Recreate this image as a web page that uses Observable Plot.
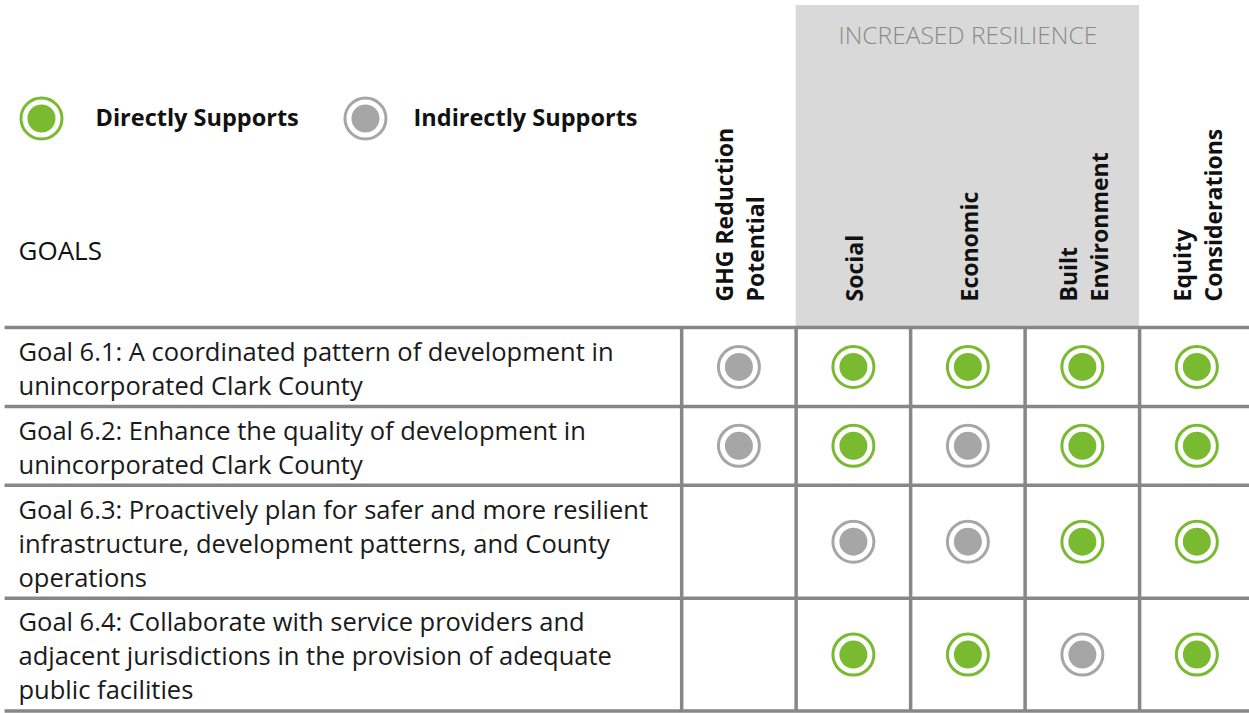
<!DOCTYPE html>
<html>
<head>
<meta charset="utf-8">
<script src="https://cdn.jsdelivr.net/npm/d3@7"></script>
<script src="https://cdn.jsdelivr.net/npm/@observablehq/plot@0.6"></script>
<style>
  html, body { margin: 0; padding: 0; background: #fff; }
  #chart svg { display: block; }
</style>
</head>
<body>
<div id="chart"></div>
<script>
// ---- data ----
const columns = ["GHG Reduction\nPotential", "Social", "Economic", "Built\nEnvironment", "Equity\nConsiderations"];
const groupLabel = "INCREASED RESILIENCE";
const groupColumns = ["Social", "Economic", "Built\nEnvironment"];
const goalsHeader = "GOALS";
const goals = [
  "Goal 6.1: A coordinated pattern of development in\nunincorporated Clark County",
  "Goal 6.2: Enhance the quality of development in\nunincorporated Clark County",
  "Goal 6.3: Proactively plan for safer and more resilient\ninfrastructure, development patterns, and County\noperations",
  "Goal 6.4: Collaborate with service providers and\nadjacent jurisdictions in the provision of adequate\npublic facilities"
];
// D = directly supports, I = indirectly supports, "" = none
const ratings = [
  ["I", "D", "D", "D", "D"],
  ["I", "D", "I", "D", "D"],
  ["",  "I", "I", "D", "D"],
  ["",  "D", "D", "I", "D"]
];
const legendKeys = ["D", "I"];
const legendLabels = ["Directly Supports", "Indirectly Supports"];

// ---- styling / layout ----
const colors = {D: "#7aba31", I: "#a6a6a6"};
const W = 1249, H = 713;
const goalSpan = 5.95;              // goal column width in column units
const nUnitsX = 10.91;              // visible width in column units (last column is cut off)
const lineH = 34;                   // px per text line (y unit)
const headerBottom = 327 / lineH;
const rowPad = 0.32;
const font = "'Open Sans', 'Noto Sans', sans-serif";
const legendSymbolX = [0.358, 3.188];
const legendTextX = [0.83, 3.608];

const rows = [];
let rowTop = headerBottom;
goals.forEach((g, i) => {
  const n = g.split("\n").length;
  const h = n + rowPad;
  rows.push({goal: g, i, top: rowTop, bottom: rowTop + h, mid: rowTop + h / 2});
  rowTop += h;
});
const boundaries = [headerBottom, ...rows.map(r => r.bottom)];

const cells = [];
rows.forEach(r => ratings[r.i].forEach((v, j) => {
  if (v) cells.push({x: goalSpan + j + 0.5, y: r.mid, v});
}));

const colHeads = columns.map((c, j) => ({label: c, x: goalSpan + j + 0.5}));
const gIdx = groupColumns.map(c => columns.indexOf(c));
const g0 = goalSpan + Math.min(...gIdx), g1 = goalSpan + Math.max(...gIdx) + 1;

const legend = legendKeys.map((k, i) => ({v: k, label: legendLabels[i], x: legendSymbolX[i], tx: legendTextX[i], y: 118 / lineH}));

const chart = Plot.plot({
  width: W, height: H,
  margin: 0,
  x: {domain: [0, nUnitsX], axis: null},
  y: {domain: [0, H / lineH], reverse: true, axis: null},
  style: {fontFamily: font, background: "#fff", color: "#111"},
  marks: [
    // group shading
    Plot.rect([groupLabel], {x1: g0, x2: g1, y1: 5 / lineH, y2: headerBottom, fill: "#d9d9d9"}),
    Plot.text([groupLabel], {x: (g0 + g1) / 2, y: 36 / lineH, text: d => d, fill: "#8a8a8a", fontSize: 24.5, fontWeight: 300}),
    // column headers (rotated)
    Plot.text(colHeads, {x: "x", y: 301 / lineH, text: "label", rotate: -90, textAnchor: "start", lineAnchor: "middle",
      fontSize: 23, fontWeight: "bold", lineHeight: 1.34, fill: "#111"}),
    // GOALS label
    Plot.text([goalsHeader], {x: 0, y: 251 / lineH, dx: 18, text: d => d, textAnchor: "start", fontSize: 26, fill: "#111"}),
    // legend
    Plot.dot(legend, {x: "x", y: "y", r: 20.5, stroke: d => colors[d.v], strokeWidth: 3, fill: "none"}),
    Plot.dot(legend, {x: "x", y: "y", r: 14, fill: d => colors[d.v]}),
    Plot.text(legend, {x: "tx", y: "y", text: "label", textAnchor: "start", fontSize: 23.5, fontWeight: "bold", fill: "#111"}),
    // grid
    Plot.ruleY(boundaries, {x1: 0.04, x2: nUnitsX, stroke: "#878787", strokeWidth: 3.5}),
    Plot.ruleX(d3.range(5).map(j => goalSpan + j), {y1: headerBottom, y2: boundaries[boundaries.length - 1], stroke: "#878787", strokeWidth: 3.5}),
    // goal labels
    Plot.text(rows, {x: 0, y: "mid", dx: 18, dy: 0, text: "goal", textAnchor: "start", lineAnchor: "middle",
      fontSize: 25.5, lineHeight: lineH / 25.5, fill: "#1a1a1a"}),
    // rating marks
    Plot.dot(cells, {x: "x", y: "y", r: 20.5, stroke: d => colors[d.v], strokeWidth: 3, fill: "#fff"}),
    Plot.dot(cells, {x: "x", y: "y", r: 14, fill: d => colors[d.v]})
  ]
});
document.getElementById("chart").appendChild(chart);
</script>
</body>
</html>
